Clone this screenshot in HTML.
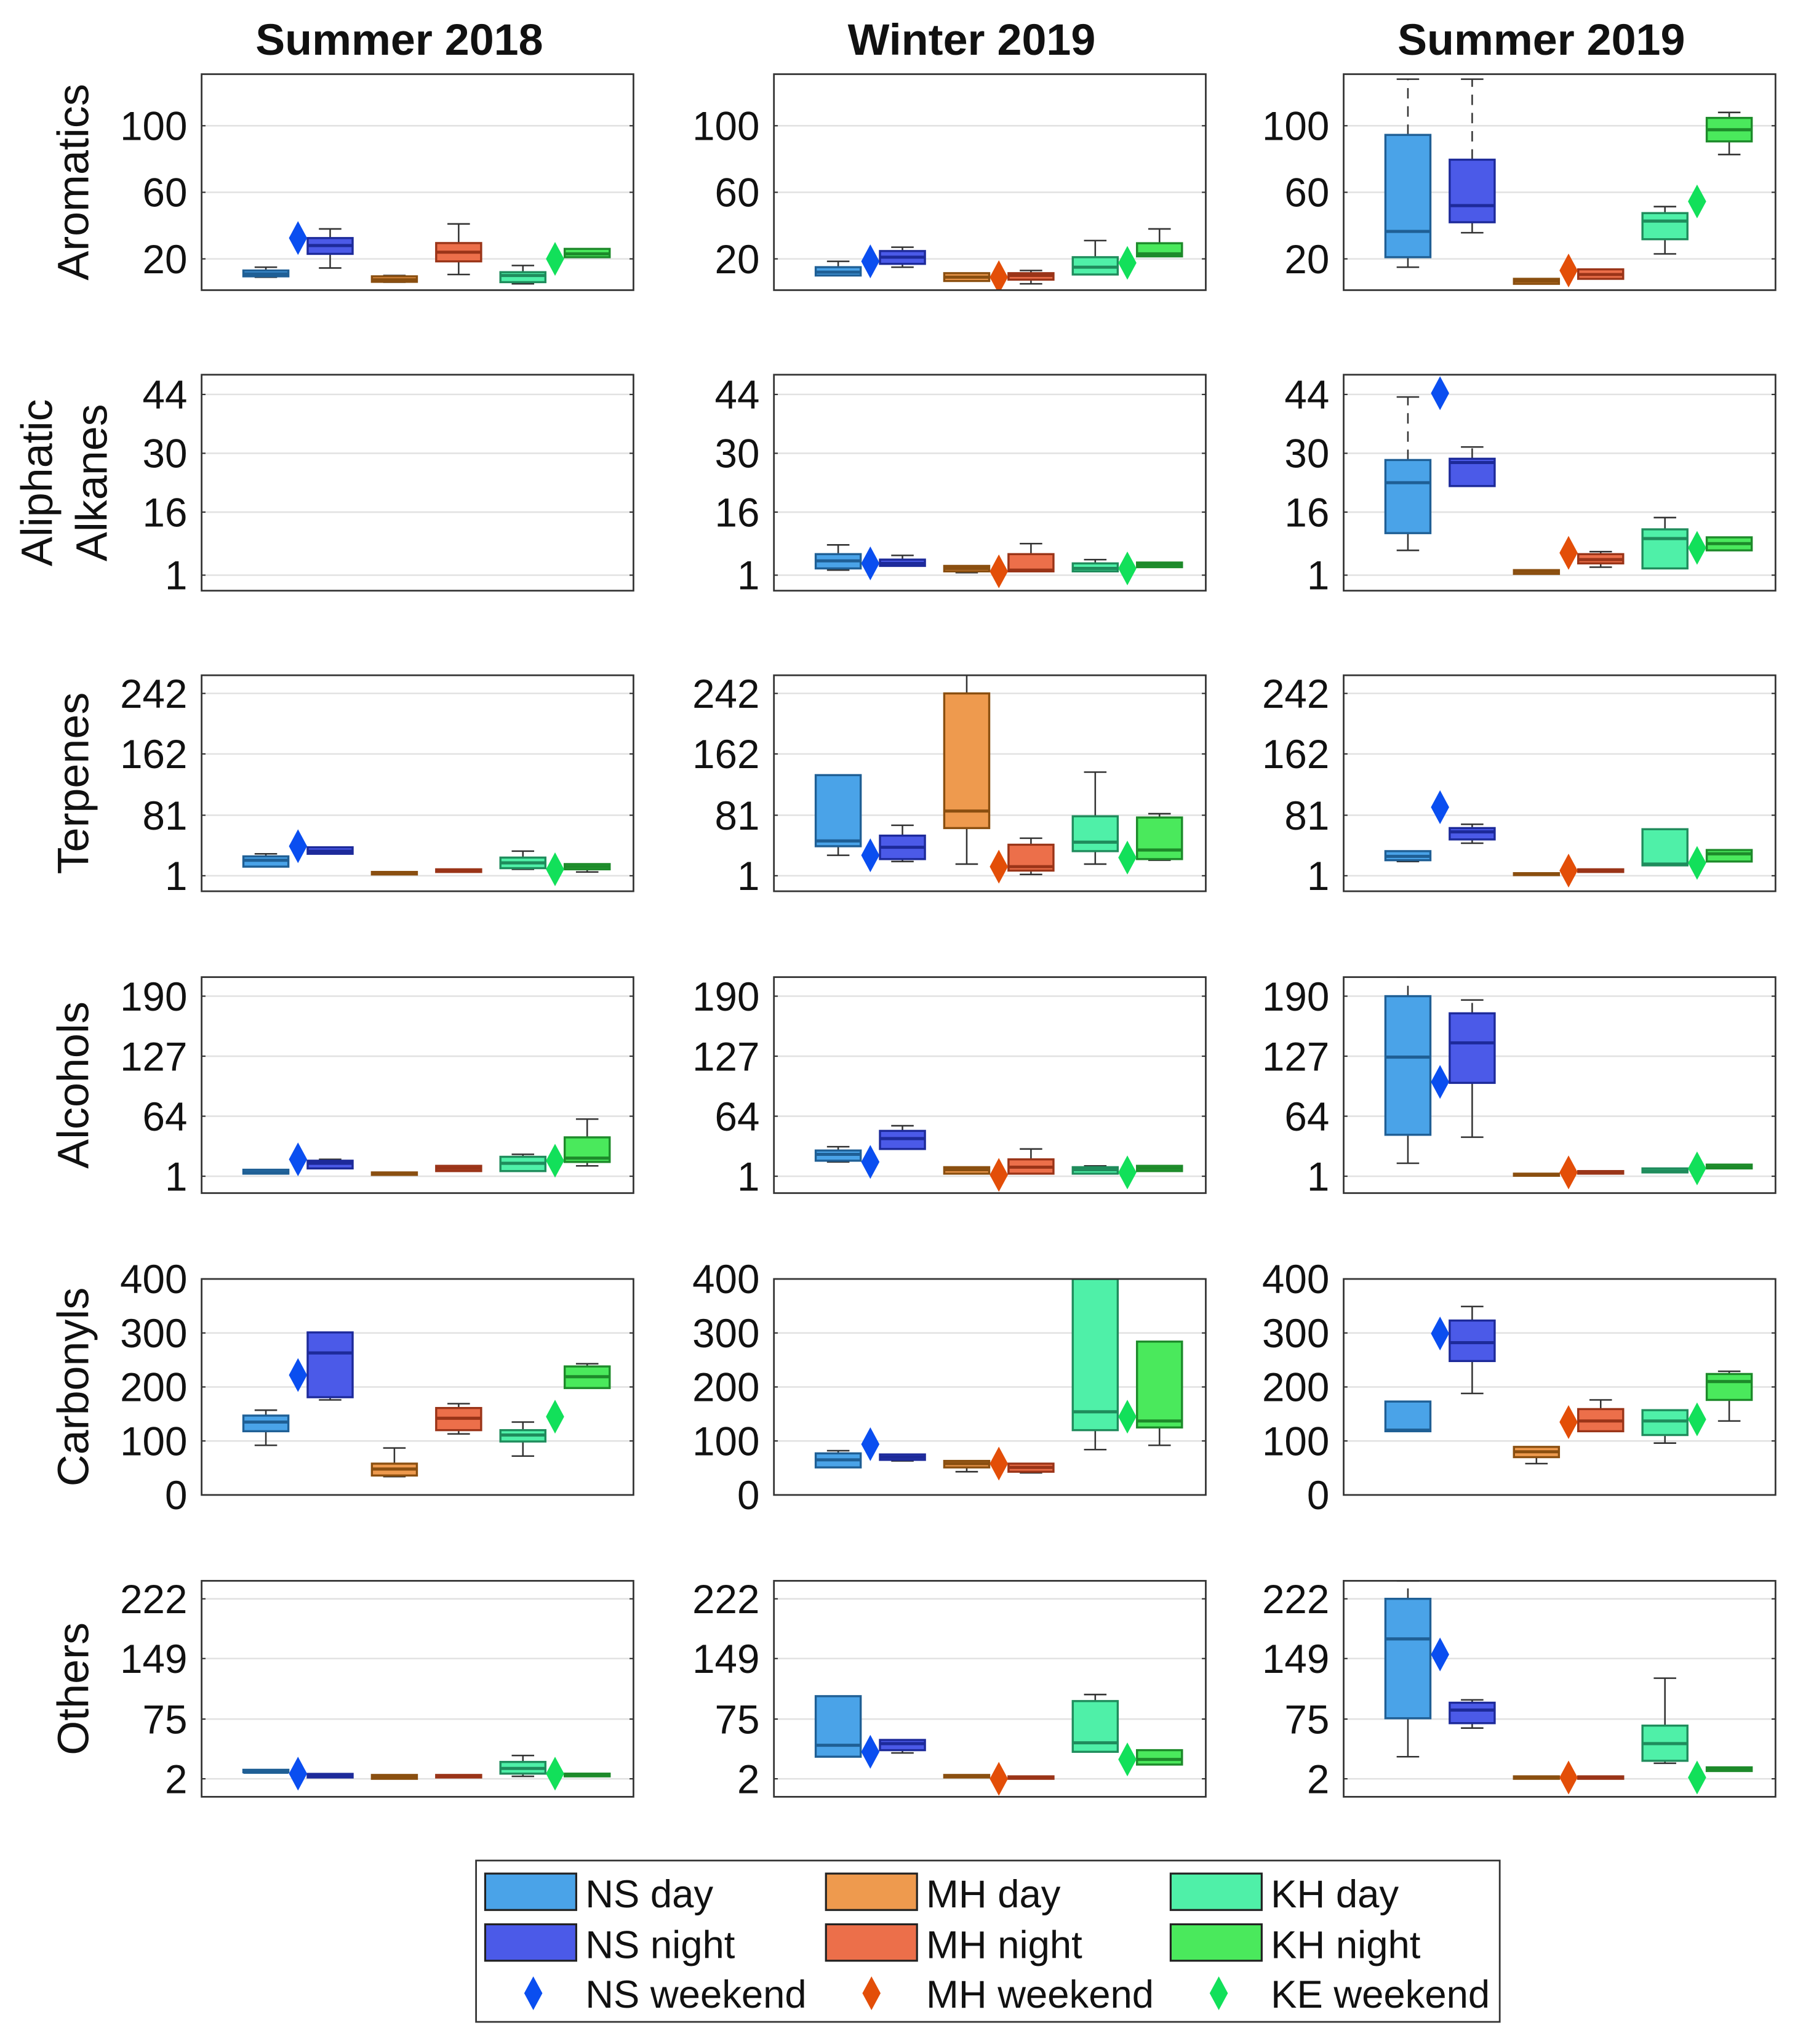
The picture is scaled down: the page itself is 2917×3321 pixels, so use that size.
<!DOCTYPE html>
<html><head><meta charset="utf-8"><style>
html,body{margin:0;padding:0;background:#fff}
svg{display:block}
text{font-family:"Liberation Sans",Arial,sans-serif;fill:#111}
</style></head><body>
<svg id="fig" xmlns="http://www.w3.org/2000/svg" width="2917" height="3321" viewBox="0 0 1380 1571" preserveAspectRatio="none"></svg>
<script>
// ---------- data ----------
const seasons = ["Summer 2018","Winter 2019","Summer 2019"];
const groups = ["Aromatics","Aliphatic Alkanes","Terpenes","Alcohols","Carbonyls","Others"];
const seriesNames = ["NS day","NS night","MH day","MH night","KH day","KH night"];
const yLims = [[1.2,131],[-2.7,48.7],[-19.5,266],[-16.7,210],[0,400],[-20,244]];
const yTicks = [[20,60,100],[1,16,30,44],[1,81,162,242],[1,64,127,190],[0,100,200,300,400],[2,75,149,222]];
const aromS18 = [[9,9.5,11,13,15],[14.5,23,28,32.5,38],[6,6.2,7.5,9.5,10],[10.6,18.5,24,29.5,41],[5,6,10,12,16],[21,21,23,26,26]];
const aromW19 = [[10,10,12,15,18.5],[15,17,21,24.7,27],[6.7,6.7,9,11.4,11.4],[5,7.5,10,11.4,13],[10.6,10.6,15,21,31],[21.5,21.5,23,29.4,38]];
const aromS19 = [[15,21,36.5,94.5,128],[35.7,42,52,79.6,128],[5,5,6.7,8,8],[8,8,10.6,13.7,13.7],[23,31.8,42.7,47.5,51.4],[82.7,90.6,97.6,104.7,108]];
const alkS18 = [];
const alkW19 = [[2.2,2.6,4.4,6,8.2],[3.2,3.2,3.8,4.7,5.7],[1.6,1.9,2.6,3.2,3.2],[1.9,1.9,2.2,6,8.5],[1.9,1.9,2.6,3.8,4.7],[2.9,2.9,3.5,4,4]];
const alkS19 = [[6.9,11,23,28.4,43.4],[22.2,22.2,27.8,28.7,31.5],[1.3,1.3,1.9,2.2,2.2],[2.9,3.8,4.7,6,6.6],[2.6,2.6,9.7,11.9,14.7],[6.9,6.9,8.5,10,10]];
const terS18 = [[13,13,21.5,26.6,30],[30,30,33.5,38.6,38.6],[2.7,2.7,4.4,6,6],[6,6,7.8,9.5,9.5],[9.5,11,18,25,33.5],[6,9.5,13,16.4,16.4]];
const terW19 = [[28,40,47,134,134],[19.8,23,38.6,54,67.7],[16.4,64,86.5,242,266],[2.7,7.8,13,42,50.6],[16.4,33.5,45.4,79.6,138],[21.5,23,35,78,83]];
const terS19 = [[19.8,21.5,26.6,33.5,33.5],[44,49,59,64,69],[2,2,3.5,4.4,4.4],[6,6,7.8,9.5,9.5],[14.7,14.7,16.4,62.5,62.5],[19.8,19.8,30,35,35]];
const alcS18 = [[3.7,3.7,5,7.8,7.8],[9.2,9.2,14.6,17.3,18.7],[2.4,2.4,3,5,5],[6.4,6.4,9.2,11.9,11.9],[6.4,6.4,14.6,21.4,24],[11.9,16,20,41.8,61]];
const alcW19 = [[16,17.3,24,28,32],[29.6,29.6,40.5,48.6,54],[3.7,3.7,7.8,10.5,10.5],[3.7,3.7,10.5,18.7,29.6],[3.7,3.7,7.8,10.5,11.9],[6.4,6.4,9.2,11.9,11.9]];
const alcS19 = [[14.6,44.5,126,190,210],[42,99,141,172,186],[1.5,1.5,2.4,3.7,3.7],[3.7,3.7,5,6.4,6.4],[5,5,6.4,9.2,9.2],[9.2,9.2,10.5,13.2,13.2]];
const carS18 = [[92,118,135,147,157],[176,181,263,301,301],[34,36,48,58,87],[113,120,142,161,169],[72,99,111,120,135],[198,198,219,238,243]];
const carW19 = [[51,51,65,77,82],[63,65,70,75,75],[43,51,58,63,63],[41,43,51,58,58],[84,120,154,400,400],[92,125,137,284,284]];
const carS19 = [[118,118,120,173,173],[188,248,282,323,349],[58,70,80,89,89],[118,118,137,159,176],[96,111,137,157,157],[137,176,210,224,229]];
const othS18 = [[10,10,10,13,13],[3.6,3.6,5,8,8],[2,2,3.6,6.7,6.7],[3.6,3.6,5,6.7,6.7],[5,8.3,14.7,22.6,30.5],[5,5,6.7,8.3,8.3]];
const othW19 = [[29,29,43,103,103],[33.6,37,45,49.5,49.5],[3.6,3.6,5,6.7,6.7],[2,2,3.6,5,5],[35,35,46,97,105],[19.4,19.4,25.7,37,37]];
const othS19 = [[29,76,173,222,244],[64,70,86,95,98.5],[2,2,3.6,5,5],[2,2,3.6,5,5],[21,24,45,67,125],[11.5,11.5,13,16,16]];
const wkAromS18=[32.5,null,20], wkAromW19=[18.5,9,17.6], wkAromS19=[null,13,54.5];
const wkAlkS18=[null,null,null], wkAlkW19=[3.8,1.9,2.6], wkAlkS19=[44.3,6.3,7.5];
const wkTerS18=[40,null,9.5], wkTerW19=[28,13,25], wkTerS19=[91.6,7.8,18];
const wkAlcS18=[18.7,null,17.3], wkAlcW19=[16,2.4,5], wkAlcS19=[100,5,9.2];
const wkCarS18=[222,null,145], wkCarW19=[94,58,145], wkCarS19=[299,135,140];
const wkOthS18=[8.3,null,8.3], wkOthW19=[35,2,25.7], wkOthS19=[154,3.6,3.6];

const boxes = [[aromS18,aromW19,aromS19],[alkS18,alkW19,alkS19],[terS18,terW19,terS19],[alcS18,alcW19,alcS19],[carS18,carW19,carS19],[othS18,othW19,othS19]];
const weekends = [[wkAromS18,wkAromW19,wkAromS19],[wkAlkS18,wkAlkW19,wkAlkS19],[wkTerS18,wkTerW19,wkTerS19],[wkAlcS18,wkAlcW19,wkAlcS19],[wkCarS18,wkCarW19,wkCarS19],[wkOthS18,wkOthW19,wkOthS19]];

const fills = ["#4aa3e8","#4b5ae8","#ee9a4e","#ec6f4a","#4ff0a8","#4ae95c"];
const edges = ["#1f5f95","#1d2a9a","#8a4f10","#9a3418","#1f8c5c","#1d8a2a"];
const meds  = ["#1f5f95","#1d2a9a","#8a4f10","#9a3418","#1f8c5c","#1d8a2a"];
const wkColors = ["#0a4ef0","#e34e08","#12e05a"];
const colX = [155,595,1033], panelW = 332;
const rowY = [57,288,519,751,983,1215], panelH = 166;
const xMax = 6.72;

const NS="http://www.w3.org/2000/svg";
const svg=document.getElementById('fig');
function mk(tag,attrs,parent){const e=document.createElementNS(NS,tag);for(const k in attrs)e.setAttribute(k,attrs[k]);(parent||svg).appendChild(e);return e;}

seasons.forEach((s,c)=>{
  const t=mk('text',{x:colX[c]+panelW/2-14,y:42,'text-anchor':'middle','font-size':34,'font-weight':'bold'});
  t.textContent=s;
  
  
});
groups.forEach((g,r)=>{
  const cy=rowY[r]+panelH/2;
  if(g==="Aliphatic Alkanes"){
    ["Aliphatic","Alkanes"].forEach((w,i)=>{
      const t=mk('text',{x:0,y:0,'text-anchor':'middle','font-size':34,transform:`translate(${40+i*42},${cy}) rotate(-90)`});
      t.textContent=w;
      
      
    });
  } else {
    const t=mk('text',{x:0,y:0,'text-anchor':'middle','font-size':34,transform:`translate(${68},${cy}) rotate(-90)`});
    t.textContent=g;
    
    
  }
});

for(let r=0;r<6;r++){
  for(let c=0;c<3;c++){
    const L=colX[c], T=rowY[r];
    const g=mk('g',{});
    
    
    const [y0,y1]=yLims[r];
    const ys=v=>T+panelH-(v-y0)/(y1-y0)*panelH;
    const xs=i=>L+i/xMax*panelW;
    mk('rect',{x:L,y:T,width:panelW,height:panelH,fill:'#fff'},g);
    yTicks[r].forEach(v=>{
      const y=ys(v);
      const gl=mk('line',{x1:L,x2:L+panelW,y1:y,y2:y,stroke:'#e2e2e2','stroke-width':1.2},g);
      
      
      mk('line',{x1:L,x2:L+3,y1:y,y2:y,stroke:'#333','stroke-width':1},g);
      mk('line',{x1:L+panelW-3,x2:L+panelW,y1:y,y2:y,stroke:'#333','stroke-width':1},g);
      const t=mk('text',{x:L-11,y:y+11,'text-anchor':'end','font-size':31},g);
      t.textContent=v;
      
      
    });
    const clip=mk('clipPath',{id:`cp${r}${c}`},g);
    mk('rect',{x:L,y:T,width:panelW,height:panelH},clip);
    const inner=mk('g',{'clip-path':`url(#cp${r}${c})`},g);
    boxes[r][c].forEach((b,i)=>{
      const x=xs(i+1), hw=0.35/xMax*panelW, cw=hw*0.5;
      const bg=mk('g',{},inner);
      
      
      const dashHi = (c===2 && i<=1 && (r===0||r===1||r===3||r===5) && b[4]>b[3]);
      mk('line',{x1:x,x2:x,y1:ys(b[3]),y2:ys(b[4]),stroke:'#333','stroke-width':1.2,'stroke-dasharray':dashHi?'8,6':''},bg);
      mk('line',{x1:x,x2:x,y1:ys(b[1]),y2:ys(b[0]),stroke:'#333','stroke-width':1.2},bg);
      mk('line',{x1:x-cw,x2:x+cw,y1:ys(b[4]),y2:ys(b[4]),stroke:'#333','stroke-width':1.2},bg);
      mk('line',{x1:x-cw,x2:x+cw,y1:ys(b[0]),y2:ys(b[0]),stroke:'#333','stroke-width':1.2},bg);
      const top=ys(b[3]), bot=ys(b[1]);
      mk('rect',{x:x-hw,y:top,width:2*hw,height:Math.max(bot-top,1.5),fill:fills[i],stroke:edges[i],'stroke-width':1.6},bg);
      mk('line',{x1:x-hw,x2:x+hw,y1:ys(b[2]),y2:ys(b[2]),stroke:meds[i],'stroke-width':2.4},bg);
    });
    weekends[r][c].forEach((v,k)=>{
      if(v===null) return;
      const x=xs(1.5+2*k), y=ys(v);
      const d=mk('polygon',{points:`${x},${y-13} ${x+7},${y} ${x},${y+13} ${x-7},${y}`,fill:wkColors[k]},inner);
      
      
    });
    mk('rect',{x:L,y:T,width:panelW,height:panelH,fill:'none',stroke:'#333','stroke-width':1.3},g);
  }
}

const lg=mk('g',{});


mk('rect',{x:366,y:1430,width:787,height:124,fill:'#fff',stroke:'#333','stroke-width':1.3},lg);
const lgX=[373,635,900];
seriesNames.forEach((n,i)=>{
  const col=Math.floor(i/2), row=i%2;
  const x=lgX[col], y=1440+row*39;
  mk('rect',{x:x,y:y,width:70,height:28,fill:fills[i],stroke:'#222','stroke-width':1.5},lg);
  const t=mk('text',{x:x+77,y:y+26,'font-size':30},lg);
  t.textContent=n;
  
  
});
["NS weekend","MH weekend","KE weekend"].forEach((n,k)=>{
  const x=[410,670,937][k], y=1532;
  mk('polygon',{points:`${x},${y-13} ${x+7},${y} ${x},${y+13} ${x-7},${y}`,fill:wkColors[k]},lg);
  const t=mk('text',{x:lgX[k]+77,y:y+11,'font-size':30},lg);
  t.textContent=n;
  
  
});
</script>
</body></html>
